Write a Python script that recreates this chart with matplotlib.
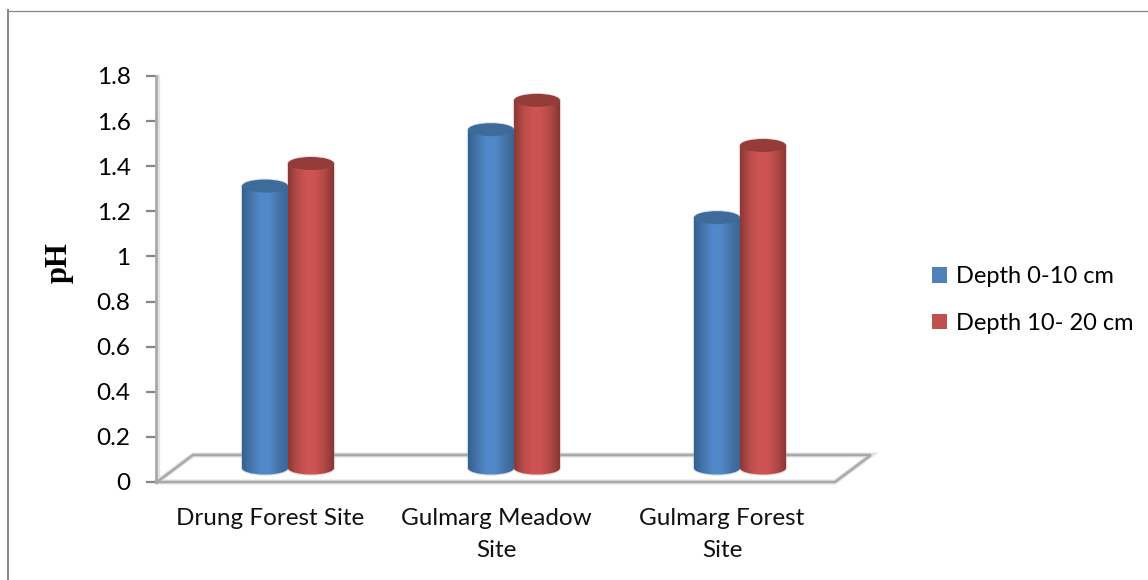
#!/usr/bin/env python3
# -*- coding: utf-8 -*-
"""Soil pH by site and depth, drawn as pseudo-3D cylinder columns."""
import numpy as np
import matplotlib
matplotlib.use("Agg")
import matplotlib.pyplot as plt
from matplotlib.colors import LinearSegmentedColormap
from matplotlib.patches import Ellipse, PathPatch, Patch
from matplotlib.path import Path

sites = ["Drung Forest Site", "Gulmarg Meadow\nSite", "Gulmarg Forest\nSite"]
depth_0_10 = [1.25, 1.50, 1.11]
depth_10_20 = [1.35, 1.63, 1.43]
series_names = ["Depth 0-10 cm", "Depth 10- 20 cm"]
y_ticks = [0, 0.2, 0.4, 0.6, 0.8, 1, 1.2, 1.4, 1.6, 1.8]
y_tick_labels = ["0", "0.2", "0.4", "0.6", "0.8", "1", "1.2", "1.4", "1.6", "1.8"]

W, H = 1148, 580
GREY = "#868686"
AX_L, AX_R, AX_TOP, AX_BOT = 157, 835, 76, 482

# depth of the fake 3D floor, in data units
DX = 36 / 226.0
DY = 27 / 225.6
BAR_W = 46 / 226.0
COL_DX = 18 / 226.0   # column axis sits halfway back on the floor
COL_DY = 14 / 225.6
ELL_H = 13 / 225.6

plt.rcParams["font.family"] = ["Lato", "DejaVu Sans"]
fig = plt.figure(figsize=(W / 100, H / 100), dpi=100)
ax = fig.add_axes([AX_L / W, 1 - AX_BOT / H, (AX_R - AX_L) / W, (AX_BOT - AX_TOP) / H])
ax.set_xlim(-0.5, 2.5)
ax.set_ylim(0, 1.8)

blue_cm = LinearSegmentedColormap.from_list("b", ["#34608f", "#4675ab", "#5189cb", "#5088c8", "#4674a8", "#3a6594"])
red_cm = LinearSegmentedColormap.from_list("r", ["#8a3836", "#b84b49", "#cf5553", "#cc5351", "#b04846", "#873635"])


def cylinder(x0, val, cmap, top_col, halo):
    # x0 is the left edge, val the height of the top ellipse centre
    x0 += COL_DX
    x1 = x0 + BAR_W
    b = COL_DY
    t = val + COL_DY
    h = ELL_H / 2
    k = 0.5523
    r = BAR_W / 2
    xc = x0 + r
    verts = [(x0, t), (x1, t), (x1, b),
             (x1, b - h * k), (xc + r * k, b - h), (xc, b - h),
             (xc - r * k, b - h), (x0, b - h * k), (x0, b), (x0, t)]
    codes = [Path.MOVETO, Path.LINETO, Path.LINETO,
             Path.CURVE4, Path.CURVE4, Path.CURVE4,
             Path.CURVE4, Path.CURVE4, Path.CURVE4, Path.CLOSEPOLY]
    outline = PathPatch(Path(verts, codes), fc="none", ec=halo, lw=1.6, alpha=0.35, zorder=2.5)
    ax.add_patch(outline)
    grad = np.linspace(0, 1, 128).reshape(1, -1)
    im = ax.imshow(grad, cmap=cmap, extent=[x0, x1, b - h, t], aspect="auto",
                   interpolation="bilinear", zorder=3)
    im.set_clip_path(outline)
    ax.add_patch(Ellipse((xc, t), BAR_W * 1.02, ELL_H * 1.15, fc=halo, alpha=0.3, ec="none", zorder=2.5))
    ax.add_patch(Ellipse((xc, t), BAR_W, ELL_H, fc=top_col, ec="none", zorder=4))


# floor: drawn in data coordinates so it follows the axis scale
floor_x = [-0.5, -0.5 + DX, 2.5 + DX, 2.5, -0.5]
floor_y = [0, DY, DY, 0, 0]
ax.plot(floor_x, floor_y, color="#e2e2e2", lw=3.6, clip_on=False, zorder=1.5, solid_joinstyle="miter")
ax.plot(floor_x, floor_y, color="#a9a9a9", lw=1.8, clip_on=False, zorder=2, solid_joinstyle="miter")

for i in range(len(sites)):
    cylinder(i - BAR_W, depth_0_10[i], blue_cm, "#3f6b9b", "#7f9cc0")
    cylinder(i, depth_10_20[i], red_cm, "#953c3b", "#c08a88")

ax.set_xticks(range(len(sites)))
ax.set_xticklabels(sites, color="#111111", linespacing=1.6)
ax.set_yticks(y_ticks)
ax.set_yticklabels(y_tick_labels, color="#111111")
ax.tick_params(axis="x", length=0, pad=19, labelsize=17.5)
ax.tick_params(axis="y", length=7, width=1.6, color=GREY, pad=11, labelsize=17.5)
for s in ["top", "right", "bottom"]:
    ax.spines[s].set_visible(False)
ax.spines["left"].set_position(("outward", 1))
ax.spines["left"].set_color("#a9a9a9")
ax.spines["left"].set_linewidth(2.0)
ax.patch.set_alpha(0)

# soft shadow just right of the value axis
ax.plot([-0.5 + 2 / 226.0] * 2, [0, 1.8], color="#e2e2e2", lw=1.6, clip_on=False, zorder=1)

ax.set_ylabel("pH", fontsize=22, fontweight="bold", family="Liberation Serif")
ax.yaxis.set_label_coords((74 - AX_L) / (AX_R - AX_L), (AX_BOT - 263) / (AX_BOT - AX_TOP))

handles = [Patch(fc="#4f81bd", ec="none"), Patch(fc="#c0504d", ec="none")]
fig.legend(handles, series_names, loc="center left", bbox_to_anchor=(932 / W, 1 - 300 / H),
           frameon=False, fontsize=17, handlelength=0.64, handleheight=0.64,
           handletextpad=0.38, labelspacing=1.1, borderpad=0, borderaxespad=0)

# outer chart frame, cut off on the right and at the bottom
fig.add_artist(plt.Line2D([8 / W, 8 / W], [0, 1 - 10 / H], color=GREY, lw=1.4))
fig.add_artist(plt.Line2D([8 / W, 1.0], [1 - 10.5 / H, 1 - 10.5 / H], color=GREY, lw=0.9))

fig.savefig("out.png", dpi=100)
print("wrote out.png")
